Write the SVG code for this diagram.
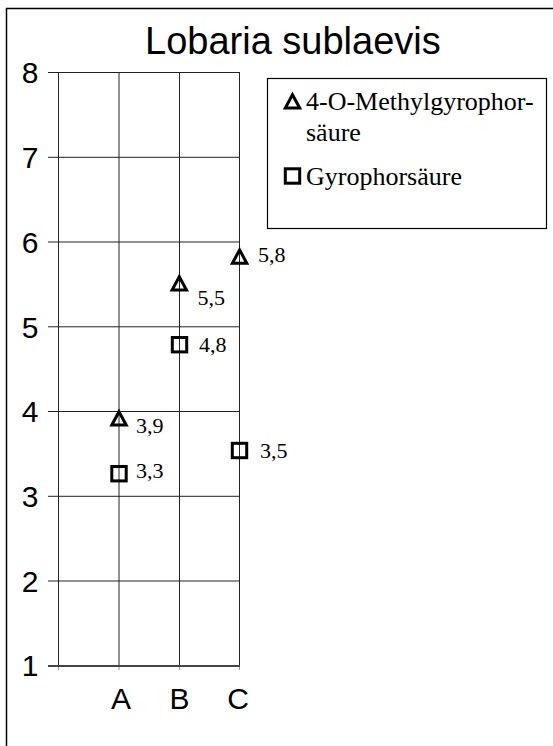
<svg xmlns="http://www.w3.org/2000/svg" xmlns:xlink="http://www.w3.org/1999/xlink" width="553" height="746" viewBox="0 0 553 746">
<style>
.grid{stroke:#222;stroke-width:1;fill:none}
.axis{font-family:"Liberation Sans",Arial,sans-serif;font-size:30px;fill:#000}
.title{font-family:"Liberation Sans",Arial,sans-serif;font-size:38px;fill:#000}
.lbl{font-family:"Liberation Serif","Times New Roman",serif;font-size:22px;fill:#000}
.leg{font-family:"Liberation Serif","Times New Roman",serif;font-size:26px;fill:#000}
.mk{fill:none;stroke:#000;stroke-width:3}
</style>
<defs>
<path id="tri" class="mk" d="M0,-6.8 L7.2,6.5 L-7.2,6.5 Z"/>
<rect id="sq" class="mk" x="-7.2" y="-7.2" width="14.4" height="14.4"/>
</defs>
<rect x="0" y="0" width="553" height="746" fill="#fff"/>
<rect x="6.5" y="8.5" width="560" height="760" fill="none" stroke="#000" stroke-width="1.5"/>
<text class="title" x="145" y="54">Lobaria sublaevis</text>
<g id="grid">
<g class="grid">
<line x1="48" y1="72.5" x2="240" y2="72.5"/>
<line x1="48" y1="157.3" x2="240" y2="157.3"/>
<line x1="48" y1="242" x2="240" y2="242"/>
<line x1="48" y1="326.8" x2="240" y2="326.8"/>
<line x1="48" y1="411.5" x2="240" y2="411.5"/>
<line x1="48" y1="496.3" x2="240" y2="496.3"/>
<line x1="48" y1="581" x2="240" y2="581"/>
<line x1="58.5" y1="72.5" x2="58.5" y2="666"/>
<line x1="119" y1="72.5" x2="119" y2="666"/>
<line x1="179.5" y1="72.5" x2="179.5" y2="666"/>
<line x1="239.5" y1="72.5" x2="239.5" y2="666"/>
</g>
<line x1="48" y1="666" x2="240" y2="666" stroke="#444" stroke-width="2"/>
<g stroke="#999" stroke-width="1">
<line x1="58.5" y1="667" x2="58.5" y2="670"/>
<line x1="119" y1="667" x2="119" y2="670"/>
<line x1="179.5" y1="667" x2="179.5" y2="670"/>
<line x1="239.5" y1="667" x2="239.5" y2="670"/>
</g>
</g>
<g id="yaxis" class="axis" text-anchor="middle">
<text x="30" y="83">8</text>
<text x="30" y="168">7</text>
<text x="30" y="252.5">6</text>
<text x="30" y="337.5">5</text>
<text x="30" y="422">4</text>
<text x="30" y="507">3</text>
<text x="30" y="591.5">2</text>
<text x="30" y="676">1</text>
</g>
<g id="xaxis" class="axis" text-anchor="middle">
<text x="121" y="709">A</text>
<text x="179.5" y="709">B</text>
<text x="238" y="709">C</text>
</g>
<g id="series-methyl">
<use xlink:href="#tri" x="119" y="418.5"/>
<use xlink:href="#tri" x="179.3" y="283.5"/>
<use xlink:href="#tri" x="239.6" y="256.7"/>
<text class="lbl" x="136" y="432.5">3,9</text>
<text class="lbl" x="197.5" y="305">5,5</text>
<text class="lbl" x="258" y="261.5">5,8</text>
</g>
<g id="series-gyro">
<use xlink:href="#sq" x="119" y="473.7"/>
<use xlink:href="#sq" x="179.5" y="344.7"/>
<use xlink:href="#sq" x="239.5" y="450.5"/>
<text class="lbl" x="136" y="478">3,3</text>
<text class="lbl" x="199" y="351.5">4,8</text>
<text class="lbl" x="260" y="458">3,5</text>
</g>
<g id="legend">
<rect x="267.5" y="78.5" width="279" height="150" fill="#fff" stroke="#000" stroke-width="1.2"/>
<use xlink:href="#tri" x="292.5" y="101.5"/>
<text class="leg" x="306" y="110">4-O-Methylgyrophor-</text>
<text class="leg" x="306" y="141">säure</text>
<use xlink:href="#sq" x="292.5" y="176"/>
<text class="leg" x="306" y="185">Gyrophorsäure</text>
</g>
</svg>
